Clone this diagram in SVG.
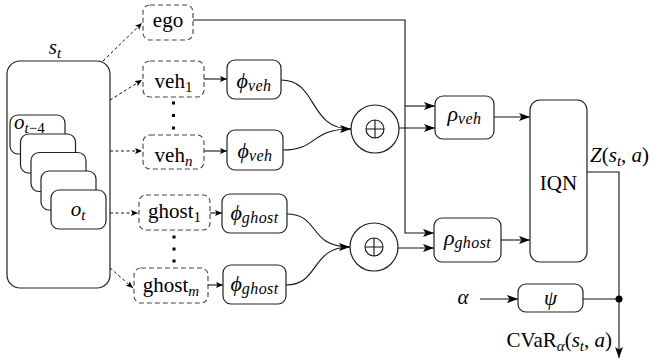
<svg xmlns="http://www.w3.org/2000/svg" width="662" height="364" viewBox="0 0 662 364">
<defs>
<style>
.box{fill:#fff;stroke:#222;stroke-width:1.2}
.dbox{fill:#fff;stroke:#444;stroke-width:1.1;stroke-dasharray:5 3}
.ln{fill:none;stroke:#111;stroke-width:1.1}
.dl{fill:none;stroke:#111;stroke-width:1;stroke-dasharray:3 2.5}
text{font-family:"Liberation Serif","DejaVu Serif",serif;font-size:21px;fill:#000}
.it{font-style:italic}
.sub{font-size:15px}
.gs{font-size:16px;letter-spacing:0.4px}
</style>
<marker id="ab" markerUnits="userSpaceOnUse" markerWidth="11" markerHeight="8" refX="11" refY="4" orient="auto">
<path d="M0,0 L11,4 L0,8 L2.5,4 z" fill="#000"/>
</marker>
<marker id="as" markerUnits="userSpaceOnUse" markerWidth="7" markerHeight="6" refX="7" refY="3" orient="auto">
<path d="M0,0 L7,3 L0,6 L1.5,3 z" fill="#000"/>
</marker>
</defs>

<g id="connectors">
<path class="dl" d="M103,61 L142,23" marker-end="url(#as)"/>
<path class="dl" d="M110,100 L142,80" marker-end="url(#as)"/>
<path class="dl" d="M110,151 L142,151" marker-end="url(#as)"/>
<path class="dl" d="M110,213 L138,213" marker-end="url(#as)"/>
<path class="dl" d="M110,268 L133,288" marker-end="url(#as)"/>
<path class="ln" d="M204,79 L227,79" marker-end="url(#as)"/>
<path class="ln" d="M204,151 L227,151" marker-end="url(#as)"/>
<path class="ln" d="M210,213 L222,213" marker-end="url(#as)"/>
<path class="ln" d="M208,285 L223,285" marker-end="url(#as)"/>
<path class="ln" d="M281,80 C318,80 308,129 351,129" marker-end="url(#ab)"/>
<path class="ln" d="M283,150 C318,150 310,129 351,129"/>
<path class="ln" d="M287,214 C320,214 308,247 350,247" marker-end="url(#ab)"/>
<path class="ln" d="M286,285 C320,285 310,247 350,247"/>
<path class="ln" d="M193,20 H405 V233 H434" marker-end="url(#ab)"/>
<path class="ln" d="M405,106 H435" marker-end="url(#ab)"/>
<path class="ln" d="M399,128 H435" marker-end="url(#ab)"/>
<path class="ln" d="M398,248 H434" marker-end="url(#ab)"/>
<path class="ln" d="M494,117 H530" marker-end="url(#ab)"/>
<path class="ln" d="M501,240 H530" marker-end="url(#ab)"/>
<path class="ln" d="M587,172 H619 V358" marker-end="url(#ab)"/>
<path class="ln" d="M480,299 H518" marker-end="url(#ab)"/>
<path class="ln" d="M583,299 H619"/>
<circle cx="619" cy="299" r="3.5" fill="#000"/>
<g fill="#000">
<rect x="172" y="101.5" width="3" height="3"/>
<rect x="172" y="114" width="3" height="3"/>
<rect x="172" y="126.5" width="3" height="3"/>
<rect x="172.5" y="235.5" width="3" height="3"/>
<rect x="172.5" y="247.5" width="3" height="3"/>
<rect x="172.5" y="259.5" width="3" height="3"/>
</g>
</g>

<g id="st">
<rect class="box" x="7" y="61" width="103" height="227" rx="13"/>
<text x="55" y="54" text-anchor="middle"><tspan class="it">s</tspan><tspan class="it sub" dy="4">t</tspan></text>
</g>
<g id="obs">
<rect class="box" x="10" y="115" width="55" height="39" rx="8"/>
<text x="14" y="129"><tspan class="it">o</tspan><tspan class="sub" dy="4"><tspan class="it">t</tspan>−4</tspan></text>
<rect class="box" x="20.5" y="134" width="55" height="39" rx="8"/>
<rect class="box" x="31" y="152.5" width="55" height="39" rx="8"/>
<rect class="box" x="41" y="171" width="55" height="39" rx="8"/>
<rect class="box" x="51" y="190" width="55" height="39" rx="8"/>
<text x="78" y="216" text-anchor="middle"><tspan class="it">o</tspan><tspan class="it sub" dy="4">t</tspan></text>
</g>

<g id="ego">
<rect class="dbox" x="143" y="5" width="50" height="35" rx="7"/>
<text x="168" y="27" text-anchor="middle">ego</text>
</g>
<g id="veh1">
<rect class="dbox" x="143" y="61" width="61" height="36" rx="7"/>
<text x="173.5" y="88" text-anchor="middle">veh<tspan class="sub" dy="4">1</tspan></text>
</g>
<g id="vehn">
<rect class="dbox" x="143" y="135" width="61" height="34" rx="7"/>
<text x="173.5" y="162" text-anchor="middle">veh<tspan class="it sub" dy="4">n</tspan></text>
</g>
<g id="ghost1">
<rect class="dbox" x="139" y="195" width="71" height="35" rx="7"/>
<text x="174.5" y="218" text-anchor="middle">ghost<tspan class="sub" dy="4">1</tspan></text>
</g>
<g id="ghostm">
<rect class="dbox" x="134" y="268" width="74" height="35" rx="7"/>
<text x="171" y="292" text-anchor="middle">ghost<tspan class="it sub" dy="4">m</tspan></text>
</g>

<g id="phi_veh1">
<rect class="box" x="227" y="60" width="54" height="39" rx="8"/>
<text x="254" y="88" text-anchor="middle"><tspan class="it" font-size="22">ϕ</tspan><tspan class="it gs" dy="3">veh</tspan></text>
</g>
<g id="phi_veh2">
<rect class="box" x="227" y="130" width="56" height="40" rx="8"/>
<text x="255" y="158" text-anchor="middle"><tspan class="it" font-size="22">ϕ</tspan><tspan class="it gs" dy="3">veh</tspan></text>
</g>
<g id="phi_ghost1">
<rect class="box" x="222" y="194" width="65" height="39" rx="8"/>
<text x="254.5" y="220" text-anchor="middle"><tspan class="it" font-size="22">ϕ</tspan><tspan class="it gs" dy="3">ghost</tspan></text>
</g>
<g id="phi_ghost2">
<rect class="box" x="223" y="265" width="63" height="39" rx="8"/>
<text x="254.5" y="291" text-anchor="middle"><tspan class="it" font-size="22">ϕ</tspan><tspan class="it gs" dy="3">ghost</tspan></text>
</g>

<g id="sum_veh">
<circle class="box" cx="375" cy="129" r="24"/>
<circle class="ln" cx="375" cy="129" r="9"/>
<path class="ln" d="M366,129 H384 M375,120 V138"/>
</g>
<g id="sum_ghost">
<circle class="box" cx="374" cy="247" r="24"/>
<circle class="ln" cx="374" cy="247" r="9"/>
<path class="ln" d="M365,247 H383 M374,238 V256"/>
</g>

<g id="rho_veh">
<rect class="box" x="435" y="96" width="59" height="43" rx="8"/>
<text x="464.5" y="121" text-anchor="middle"><tspan class="it" font-size="22">ρ</tspan><tspan class="it gs" dy="3">veh</tspan></text>
</g>
<g id="rho_ghost">
<rect class="box" x="434" y="218" width="67" height="44" rx="8"/>
<text x="467.5" y="245" text-anchor="middle"><tspan class="it" font-size="22">ρ</tspan><tspan class="it gs" dy="3">ghost</tspan></text>
</g>

<g id="iqn">
<rect class="box" x="530" y="100" width="57" height="162" rx="10"/>
<text x="558.5" y="190" text-anchor="middle">IQN</text>
</g>
<g id="psi">
<rect class="box" x="518" y="284" width="65" height="28" rx="8"/>
<text x="550.5" y="305" text-anchor="middle" class="it">ψ</text>
</g>

<g id="labels">
<text x="463" y="304" text-anchor="middle" class="it">α</text>
<text x="590" y="162"><tspan class="it">Z</tspan>(<tspan class="it">s</tspan><tspan class="it sub" dy="4">t</tspan><tspan dy="-4">, </tspan><tspan class="it">a</tspan>)</text>
<text x="612" y="347" text-anchor="end">CVaR<tspan class="it sub" dy="4">α</tspan><tspan dy="-4">(</tspan><tspan class="it">s</tspan><tspan class="it sub" dy="4">t</tspan><tspan dy="-4">, </tspan><tspan class="it">a</tspan>)</text>
</g>
</svg>
